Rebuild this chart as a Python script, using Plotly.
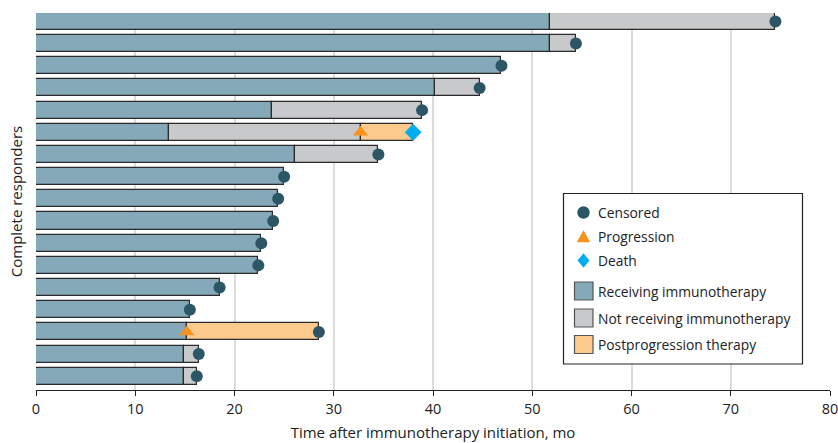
import plotly.graph_objects as go

# Swimmer plot: time on and off immunotherapy for complete responders
patients = list(range(1, 18))

receiving_end = [51.8, 51.8, 46.9, 40.2, 23.8, 13.4, 26.1, 25.0, 24.4, 23.9,
                 22.7, 22.4, 18.5, 15.5, 15.2, 14.9, 14.9]
not_receiving_end = [74.5, 54.4, None, 44.7, 38.9, 32.7, 34.5, None, None, None,
                     None, None, None, None, None, 16.4, 16.2]
postprog_start = [None, None, None, None, None, 32.7, None, None, None, None,
                  None, None, None, None, 15.2, None, None]
postprog_end = [None, None, None, None, None, 38.0, None, None, None, None,
                None, None, None, None, 28.5, None, None]

censored = [74.5, 54.4, 46.9, 44.7, 38.9, None, 34.5, 25.0, 24.4, 23.9,
            22.7, 22.4, 18.5, 15.5, 28.5, 16.4, 16.2]
progression = [None, None, None, None, None, 32.7, None, None, None, None,
               None, None, None, None, 15.2, None, None]
death = [None, None, None, None, None, 38.0, None, None, None, None,
         None, None, None, None, None, None, None]

x_ticks = [0, 10, 20, 30, 40, 50, 60, 70, 80]

event_labels = ["Censored", "Progression", "Death"]
phase_labels = ["Receiving immunotherapy", "Not receiving immunotherapy",
                "Postprogression therapy"]

FONT = "Open Sans"
BLUE = "#85A9B8"
GRAY = "#C8C9CB"
ORANGE = "#FDCA8E"
NAVY = "#2C5565"
AMBER = "#F7921E"
CYAN = "#00AEEF"
EDGE = "#2a2a2a"
BAR_W = 0.77

W, H = 838, 443
M_L, M_R, M_T, M_B = 36, 8, 13, 53

fig = go.Figure()


def add_segment(rows, starts, ends, color):
    fig.add_trace(go.Bar(
        y=[patients[i] for i in rows],
        base=[starts[i] for i in rows],
        x=[ends[i] - starts[i] for i in rows],
        orientation="h", width=BAR_W,
        marker=dict(color=color, line=dict(color=EDGE, width=1.2)),
        showlegend=False, hoverinfo="skip",
    ))


zeros = [0] * len(patients)
add_segment(range(len(patients)), zeros, receiving_end, BLUE)
add_segment([i for i, v in enumerate(not_receiving_end) if v is not None],
            receiving_end, not_receiving_end, GRAY)
add_segment([i for i, v in enumerate(postprog_start) if v is not None],
            postprog_start, postprog_end, ORANGE)


def add_events(values, symbol, color, size):
    idx = [i for i, v in enumerate(values) if v is not None]
    fig.add_trace(go.Scatter(
        x=[values[i] for i in idx], y=[patients[i] for i in idx],
        mode="markers", showlegend=False, hoverinfo="skip",
        marker=dict(symbol=symbol, color=color, size=size, line=dict(width=0)),
    ))


add_events(censored, "circle", NAVY, 12)
add_events(progression, "triangle-up", AMBER, 13)
add_events(death, "diamond", CYAN, 13)

# ---- legend box drawn in paper space (pixel helpers) ----
PW = W - M_L - M_R
PH = H - M_T - M_B


def px(x):
    return (x - M_L) / PW


def py(y):
    return (H - M_B - y) / PH


shapes = []
annotations = []
shapes.append(dict(type="rect", xref="paper", yref="paper",
                   x0=px(563.5), x1=px(802.5), y0=py(364), y1=py(193.5),
                   line=dict(color="#222", width=1.2), fillcolor="white",
                   layer="above"))

cx = 583.5
event_y = [212.5, 236.5, 260.5]
# circle
r = 6.2
shapes.append(dict(type="circle", xref="paper", yref="paper",
                   x0=px(cx - r), x1=px(cx + r),
                   y0=py(event_y[0] + r), y1=py(event_y[0] - r),
                   fillcolor=NAVY, line=dict(width=0), layer="above"))
# triangle
ty = event_y[1]
tri = "M {},{} L {},{} L {},{} Z".format(
    px(cx - 6.8), py(ty + 5.8), px(cx + 6.8), py(ty + 5.8), px(cx), py(ty - 6.2))
shapes.append(dict(type="path", xref="paper", yref="paper", path=tri,
                   fillcolor=AMBER, line=dict(width=0), layer="above"))
# diamond
dy = event_y[2]
dia = "M {},{} L {},{} L {},{} L {},{} Z".format(
    px(cx), py(dy - 7.2), px(cx + 6), py(dy), px(cx), py(dy + 7.2), px(cx - 6), py(dy))
shapes.append(dict(type="path", xref="paper", yref="paper", path=dia,
                   fillcolor=CYAN, line=dict(width=0), layer="above"))

phase_y = [291, 318, 344.5]
for yc, col in zip(phase_y, [BLUE, GRAY, ORANGE]):
    shapes.append(dict(type="rect", xref="paper", yref="paper",
                       x0=px(574.5), x1=px(593), y0=py(yc + 9), y1=py(yc - 9),
                       fillcolor=col, line=dict(color="#555", width=1.2),
                       layer="above"))

for yc, label in zip(event_y + phase_y, event_labels + phase_labels):
    annotations.append(dict(xref="paper", yref="paper", x=px(596), y=py(yc),
                            text=label, showarrow=False, xanchor="left",
                            yanchor="middle",
                            font=dict(family=FONT, size=13.8, color="#222")))

fig.update_layout(
    width=W, height=H,
    margin=dict(l=M_L, r=M_R, t=M_T, b=M_B),
    plot_bgcolor="white", paper_bgcolor="white",
    barmode="overlay", bargap=0, showlegend=False,
    font=dict(family=FONT, size=14, color="#222"),
    shapes=shapes, annotations=annotations,
    xaxis=dict(
        range=[0, 80], tickvals=x_ticks, ticktext=[str(t) for t in x_ticks],
        showgrid=True, gridcolor="#dcdcdc", gridwidth=1.5,
        showline=True, linecolor="#222", linewidth=1.2,
        ticks="outside", ticklen=5, tickcolor="#222", tickwidth=1.2,
        tickfont=dict(size=14.5), zeroline=False, ticklabeloverflow="allow",
        automargin=False,
        title=dict(text="Time after immunotherapy initiation, mo",
                   font=dict(size=15), standoff=10),
    ),
    yaxis=dict(
        range=[17.62, 0.62], showticklabels=False, showgrid=False,
        zeroline=False, showline=False, ticks="", automargin=False,
        title=dict(text="Complete responders", font=dict(size=15), standoff=8),
    ),
)

fig.write_html("out.html")
